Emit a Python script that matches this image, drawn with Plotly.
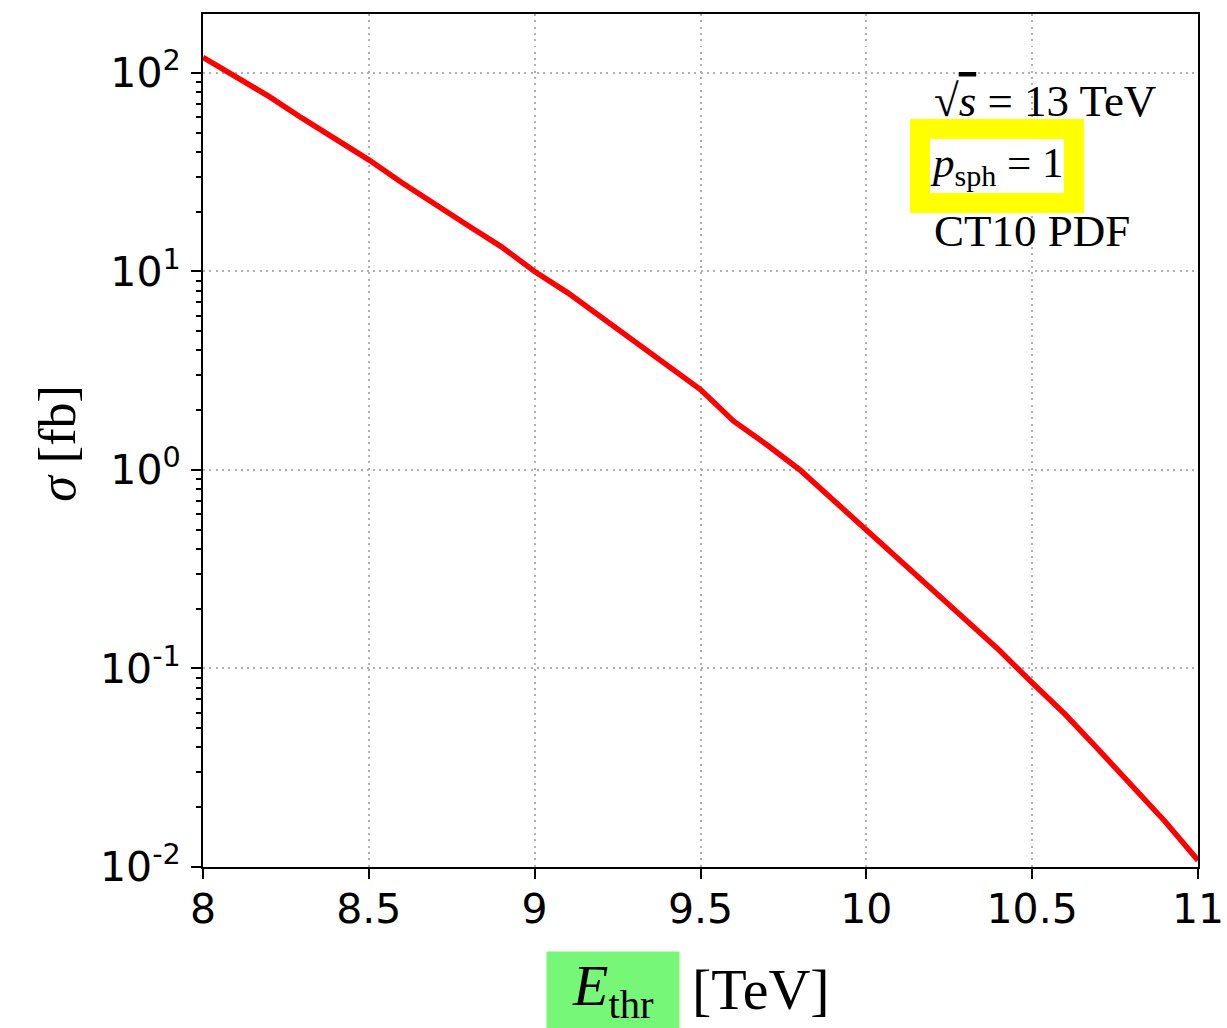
import plotly.graph_objects as go

# Threshold energy (TeV) and production cross-section (fb)
e_thr = [8.0, 8.2, 8.3, 8.4, 8.5, 8.6, 8.7, 8.8, 8.9, 9.0, 9.1, 9.2, 9.3, 9.4,
         9.5, 9.6, 9.7, 9.8, 9.9, 10.0, 10.1, 10.2, 10.3, 10.4, 10.5, 10.6,
         10.7, 10.8, 10.9, 11.0]
sigma_fb = [120, 76, 59, 46.5, 36.5, 28, 22, 17, 13.3, 10.0, 7.8, 5.9, 4.45, 3.35,
            2.54, 1.76, 1.34, 1.0, 0.706, 0.508, 0.359, 0.251, 0.178, 0.124, 0.0847,
            0.0586, 0.039, 0.026, 0.017, 0.0108]

y_tickvals = [0.01, 0.1, 1, 10, 100]
y_ticktext = ["10<sup>-2</sup>", "10<sup>-1</sup>", "10<sup>0</sup>",
              "10<sup>1</sup>", "10<sup>2</sup>"]
x_tickvals = [8, 8.5, 9, 9.5, 10, 10.5, 11]
x_ticktext = ["8", "8.5", "9", "9.5", "10", "10.5", "11"]

minor_vals = [m * 10 ** e for e in range(-2, 3) for m in range(2, 10)]

SERIF = "Liberation Serif, Times New Roman, serif"
SANS = "DejaVu Sans, sans-serif"

fig = go.Figure()
fig.add_trace(go.Scatter(x=e_thr, y=sigma_fb, mode="lines",
                         line=dict(color="#ff0000", width=5.5),
                         showlegend=False))

axis_common = dict(
    showline=True, linecolor="black", linewidth=2, mirror=True,
    ticks="outside", ticklen=10, tickwidth=2, tickcolor="black",
    showgrid=True, gridcolor="#b0b0b0", gridwidth=2, griddash="2px,4.3px",
    zeroline=False, automargin=False,
    tickfont=dict(family=SANS, size=41, color="black"),
)

fig.update_xaxes(range=[8, 11], tickmode="array", tickvals=x_tickvals,
                 ticktext=x_ticktext, ticklabelstandoff=-5, **axis_common)
fig.update_yaxes(type="log", range=[-2, 2.297], tickmode="array",
                 tickvals=y_tickvals, ticktext=y_ticktext,
                 ticklabelstandoff=2,
                 minor=dict(tickmode="array", tickvals=minor_vals,
                            ticks="outside", ticklen=5, tickwidth=1.5,
                            tickcolor="black", showgrid=False),
                 **axis_common)

annotations = [
    dict(text="√<span style='text-decoration:overline'><i>s</i></span> = 13 TeV",
         x=0.733, y=0.898, xanchor="left", yanchor="middle",
         font=dict(family=SERIF, size=45, color="black")),
    dict(text="<i>p</i><sub>sph</sub> = 1",
         x=0.7106, y=0.822, xanchor="left", yanchor="middle",
         bgcolor="white", bordercolor="#ffff00", borderwidth=20, borderpad=0,
         font=dict(family=SERIF, size=43, color="black")),
    dict(text="CT10 PDF",
         x=0.733, y=0.746, xanchor="left", yanchor="middle",
         font=dict(family=SERIF, size=45, color="black")),
    dict(text="<i>E</i><sub>thr</sub>",
         x=0.412, y=-0.144, xanchor="center", yanchor="middle",
         width=132, height=76, bgcolor="#77f777", borderpad=0,
         font=dict(family=SERIF, size=58, color="black")),
    dict(text="[TeV]",
         x=0.561, y=-0.144, xanchor="center", yanchor="middle",
         font=dict(family=SERIF, size=58, color="black")),
    dict(text="<i>σ</i> [fb]", textangle=-90,
         x=-0.147, y=0.497, xanchor="center", yanchor="middle",
         font=dict(family=SERIF, size=52, color="black")),
]
for a in annotations:
    fig.add_annotation(xref="paper", yref="paper", showarrow=False, **a)

fig.update_layout(width=1227, height=1028,
                  margin=dict(l=203, r=29, t=14, b=161),
                  plot_bgcolor="white", paper_bgcolor="white")

fig.write_html("out.html")
